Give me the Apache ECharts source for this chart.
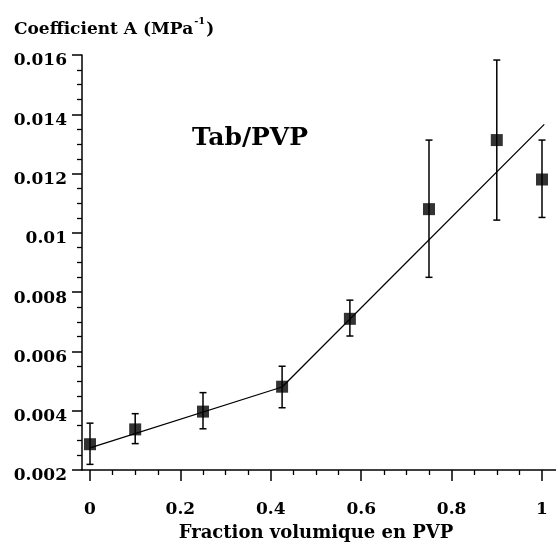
<!DOCTYPE html>
<html>
<head>
<meta charset="utf-8">
<script src="https://cdn.jsdelivr.net/npm/echarts@6/dist/echarts.min.js"></script>
<style>html,body{margin:0;padding:0;background:#fff;}#c{width:556px;height:546px;}</style>
</head>
<body>
<div id="c"></div>
<script>
// Data
var xVals = [0, 0.1, 0.25, 0.425, 0.575, 0.75, 0.9, 1.0];
var yVals = [0.00287, 0.00337, 0.00397, 0.00481, 0.0071, 0.0108, 0.01313, 0.0118];
var errLow = [0.00219, 0.00289, 0.00339, 0.0041, 0.00652, 0.0085, 0.01043, 0.01052];
var errHigh = [0.00358, 0.0039, 0.00461, 0.0055, 0.00773, 0.01313, 0.01583, 0.01313];
var fitX = [0, 0.425, 1.005];
var fitY = [0.00275, 0.0048, 0.01366];
var xTickLabels = [0, 0.2, 0.4, 0.6, 0.8, 1];
var xMinorTicks = [0.05, 0.1, 0.15, 0.25, 0.3, 0.35, 0.45, 0.5, 0.55, 0.65, 0.7, 0.75, 0.85, 0.9, 0.95];

var FONT = '"DejaVu Serif", "Liberation Serif", serif';
var chart = echarts.init(document.getElementById('c'), null, {renderer: 'canvas'});

var pts = xVals.map(function (x, i) { return [x, yVals[i]]; });
var errs = xVals.map(function (x, i) { return [x, errLow[i], errHigh[i]]; });
var fit = fitX.map(function (x, i) { return [x, fitY[i]]; });

var XMIN = -0.0177, XMAX = 1.031;

chart.setOption({
  animation: false,
  backgroundColor: '#fff',
  grid: {left: 82, right: 0, top: 55, bottom: 76, containLabel: false},
  title: {
    left: 9, top: 11,
    text: '{a|Coefficient A (MPa}{s|-1}{a|)}',
    textStyle: {
      rich: {
        a: {fontFamily: FONT, fontWeight: 'bold', fontSize: 17, color: '#000', verticalAlign: 'bottom', lineHeight: 22},
        s: {fontFamily: FONT, fontWeight: 'bold', fontSize: 10, color: '#000', verticalAlign: 'top', lineHeight: 22, padding: [0, 1, 9, 1]}
      }
    }
  },
  xAxis: [{
    type: 'value', min: XMIN, max: XMAX,
    axisLine: {show: true, onZero: false, lineStyle: {color: '#000', width: 1.5}},
    axisTick: {show: true, length: 11, lineStyle: {color: '#000', width: 1.5}, customValues: xTickLabels},
    axisLabel: {customValues: xTickLabels, margin: 31, color: '#000', fontFamily: FONT, fontWeight: 'bold', fontSize: 17,
      formatter: function (v) { return String(Math.round(v * 10) / 10); }},
    splitLine: {show: false}
  }, {
    type: 'value', min: XMIN, max: XMAX, position: 'bottom',
    axisLine: {show: false},
    axisTick: {show: true, length: 5, lineStyle: {color: '#000', width: 1.3}, customValues: xMinorTicks},
    axisLabel: {show: false, customValues: xMinorTicks},
    splitLine: {show: false}
  }],
  yAxis: {
    type: 'value', min: 0.002, max: 0.016, interval: 0.002,
    axisLine: {show: true, onZero: false, lineStyle: {color: '#000', width: 1.5}},
    axisTick: {show: true, length: 10, lineStyle: {color: '#000', width: 1.5}},
    minorTick: {show: true, splitNumber: 4, length: 5, lineStyle: {color: '#000', width: 1.3}},
    axisLabel: {margin: 15, color: '#000', fontFamily: FONT, fontWeight: 'bold', fontSize: 17,
      verticalAlign: 'top', lineHeight: 12,
      formatter: function (v) { return String(Math.round(v * 1000) / 1000); }},
    splitLine: {show: false}
  },
  graphic: [
    {type: 'text', style: {text: 'Tab/PVP', x: 250, y: 138, align: 'center', verticalAlign: 'middle',
      fontFamily: FONT, fontWeight: 'bold', fontSize: 25, fill: '#000'}},
    {type: 'text', style: {text: 'Fraction volumique en PVP', x: 316, y: 533, align: 'center', verticalAlign: 'middle',
      fontFamily: FONT, fontWeight: 'bold', fontSize: 18, fill: '#000'}}
  ],
  series: [{
    type: 'line', data: fit, showSymbol: false, symbol: 'none',
    lineStyle: {color: '#000', width: 1.3}, z: 2
  }, {
    type: 'custom', data: errs, z: 3,
    renderItem: function (params, api) {
      var x = api.value(0);
      var lo = api.coord([x, api.value(1)]);
      var hi = api.coord([x, api.value(2)]);
      var w = 3.5;
      var st = {stroke: '#000', lineWidth: 1.5};
      return {type: 'group', children: [
        {type: 'line', shape: {x1: lo[0], y1: lo[1], x2: hi[0], y2: hi[1]}, style: st},
        {type: 'line', shape: {x1: lo[0] - w, y1: lo[1], x2: lo[0] + w, y2: lo[1]}, style: st},
        {type: 'line', shape: {x1: hi[0] - w, y1: hi[1], x2: hi[0] + w, y2: hi[1]}, style: st}
      ]};
    }
  }, {
    type: 'scatter', data: pts, symbol: 'rect', symbolSize: 12,
    itemStyle: {color: '#000'}, z: 4
  }]
});
</script>
</body>
</html>
